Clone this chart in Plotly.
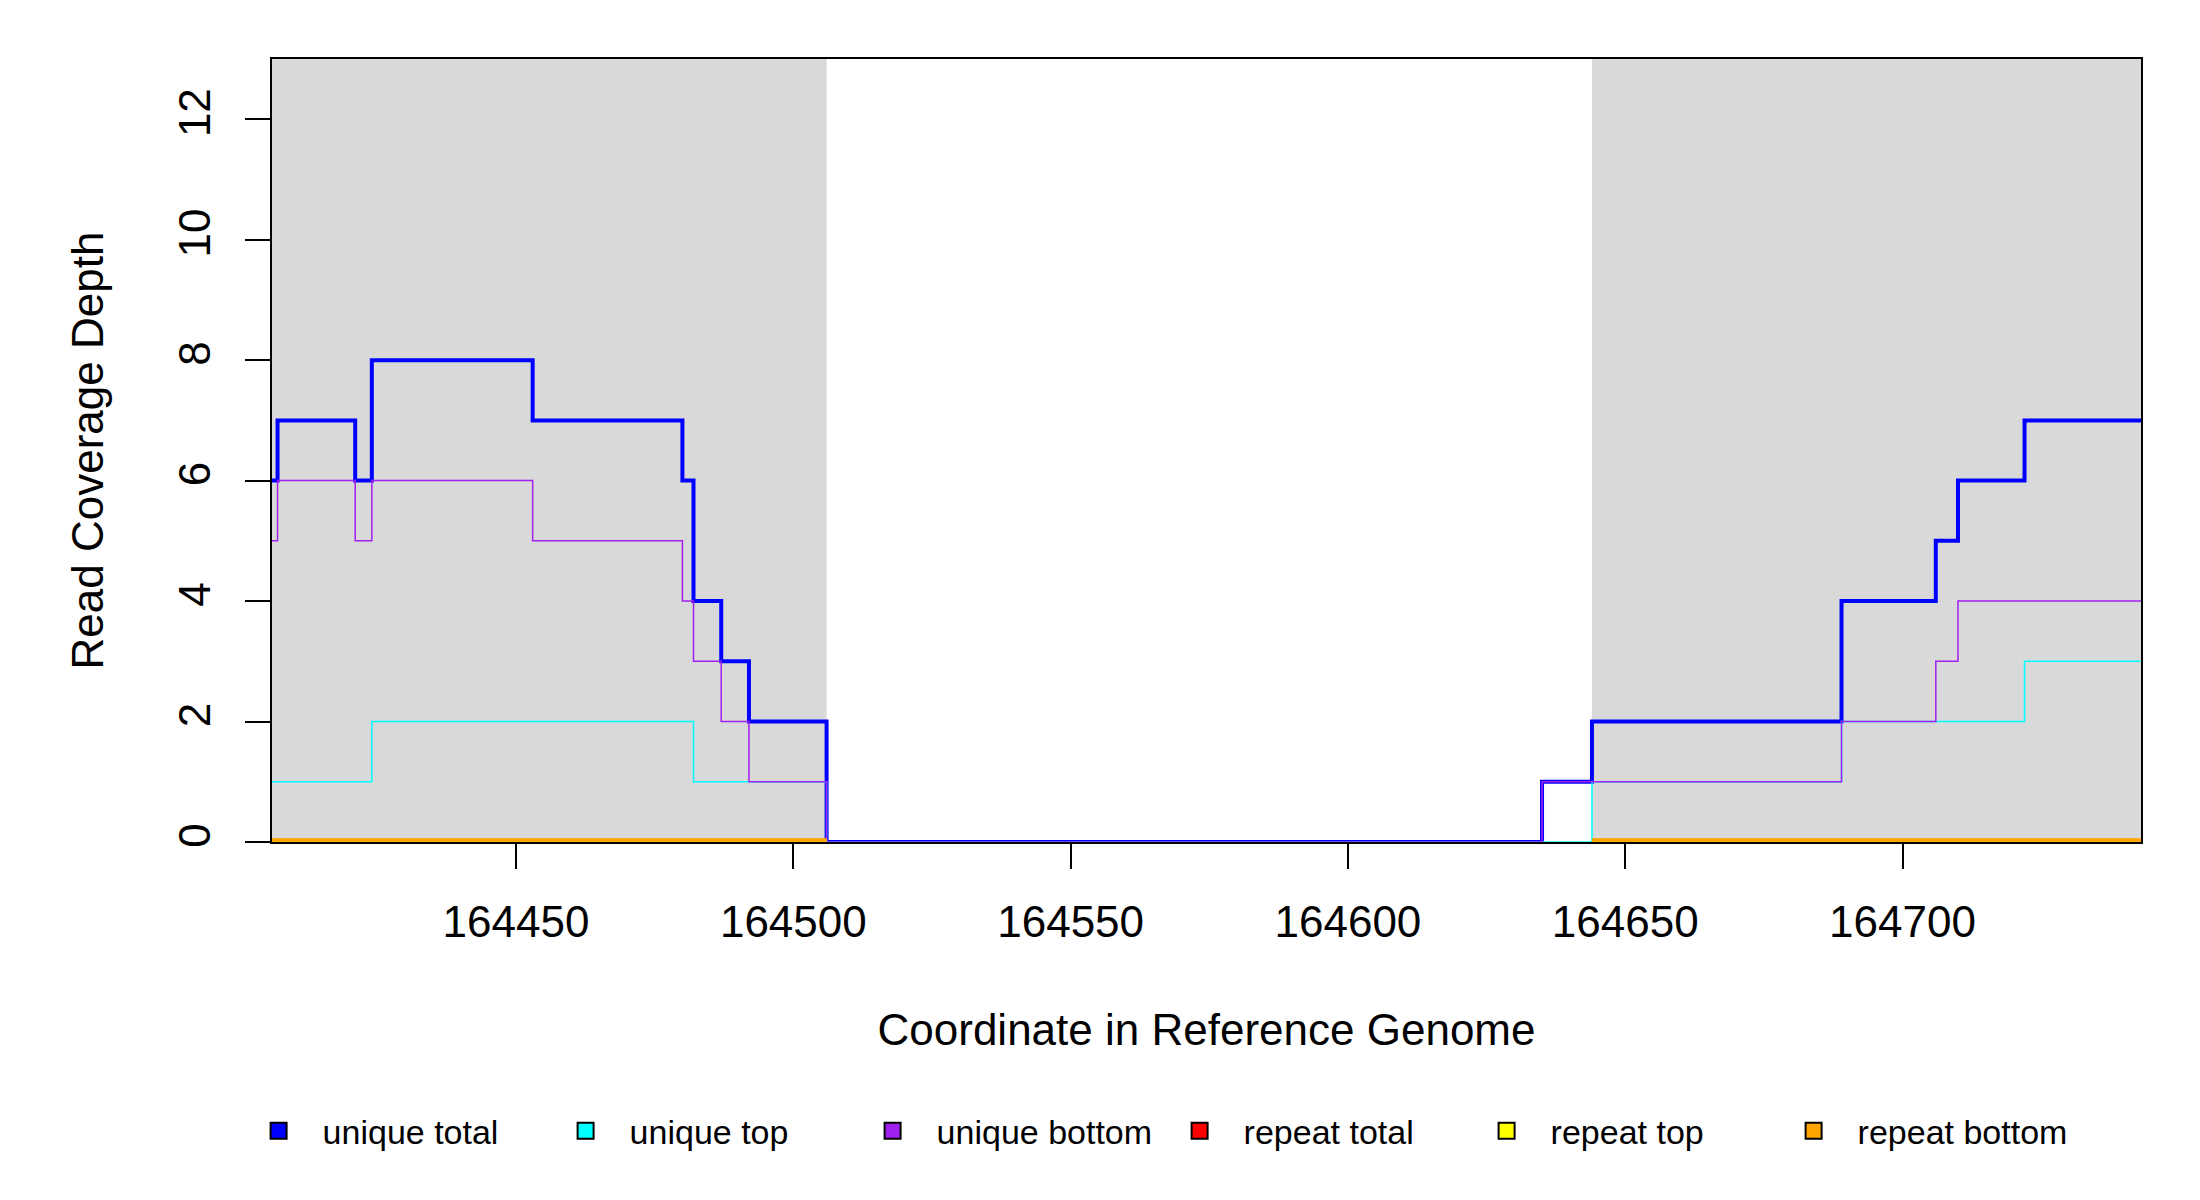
import plotly.graph_objects as go

# coverage depth by position (step starts)
positions = [164406, 164407, 164421, 164424, 164453, 164480, 164482, 164487,
             164492, 164506, 164635, 164644, 164689, 164706, 164710, 164722, 164743]
unique_total = [6, 7, 6, 8, 7, 6, 4, 3, 2, 0, 1, 2, 4, 5, 6, 7, 7]
unique_top = [1, 1, 1, 2, 2, 2, 1, 1, 1, 0, 0, 1, 2, 2, 2, 3, 3]
unique_bottom = [5, 6, 5, 6, 5, 4, 3, 2, 1, 0, 1, 1, 2, 3, 4, 4, 4]
# repeats are only drawn over the shaded regions
repeat_total = [0, 0, 0, 0, 0, 0, 0, 0, 0, 0, None, 0, 0, 0, 0, 0, 0]
repeat_top = [0, 0, 0, 0, 0, 0, 0, 0, 0, 0, None, 0, 0, 0, 0, 0, 0]
repeat_bottom = [0, 0, 0, 0, 0, 0, 0, 0, 0, 0, None, 0, 0, 0, 0, 0, 0]

shaded = [(164406, 164506), (164644, 164743)]
x_ticks = [164450, 164500, 164550, 164600, 164650, 164700]
y_ticks = [0, 2, 4, 6, 8, 10, 12]

series = [
    ("unique total", unique_total, "#0000FF", 4),
    ("unique top", unique_top, "#00FFFF", 1.5),
    ("unique bottom", unique_bottom, "#A020F0", 1.5),
    ("repeat total", repeat_total, "#FF0000", 7),
    ("repeat top", repeat_top, "#FFFF00", 7),
    ("repeat bottom", repeat_bottom, "#FFA500", 7),
]

FONT = "Liberation Sans, Arial, sans-serif"

fig = go.Figure()

for x0, x1 in shaded:
    fig.add_shape(type="rect", xref="x", yref="paper", x0=x0, x1=x1, y0=0, y1=1,
                  fillcolor="#D9D9D9", line_width=0, layer="below")

for name, vals, col, w in series:
    fig.add_trace(go.Scatter(x=positions, y=vals, mode="lines", line_shape="hv",
                             line=dict(color=col, width=w), connectgaps=False,
                             showlegend=False, hoverinfo="skip"))

# legend entries as filled squares like the original
for name, vals, col, w in series:
    fig.add_trace(go.Scatter(x=[None], y=[None], mode="markers", name=name,
                             marker=dict(symbol="square", size=16, color=col,
                                         line=dict(color="black", width=2))))

fig.update_layout(
    width=2200, height=1200,
    margin=dict(l=264, r=67, t=51, b=366),
    paper_bgcolor="white", plot_bgcolor="white",
    font=dict(family=FONT, color="black", size=44),
    showlegend=True,
    legend=dict(orientation="h", xref="container", yref="container",
                x=0.103, y=0.064, xanchor="left", yanchor="middle",
                font=dict(size=34), entrywidth=214, entrywidthmode="pixels",
                itemwidth=78, itemsizing="trace", bgcolor="rgba(0,0,0,0)"),
)

fig.update_xaxes(range=[164406, 164743], tickvals=x_ticks, tickformat="d",
                 ticks="outside", ticklen=25, tickwidth=1.5, tickcolor="black",
                 showline=True, linecolor="black", linewidth=1.5, mirror=True,
                 showgrid=False, zeroline=False, ticklabelstandoff=15,
                 tickfont=dict(size=44),
                 title=dict(text="Coordinate in Reference Genome",
                            font=dict(size=44), standoff=70))
fig.update_yaxes(range=[0, 13], tickvals=y_ticks, ticks="outside",
                 ticklen=25, tickwidth=1.5, tickcolor="black", tickangle=-90,
                 showline=True, linecolor="black", linewidth=1.5, mirror=True,
                 showgrid=False, zeroline=False, ticklabelstandoff=18,
                 tickfont=dict(size=44),
                 title=dict(text="Read Coverage Depth",
                            font=dict(size=44), standoff=52))

fig.write_html("out.html")
